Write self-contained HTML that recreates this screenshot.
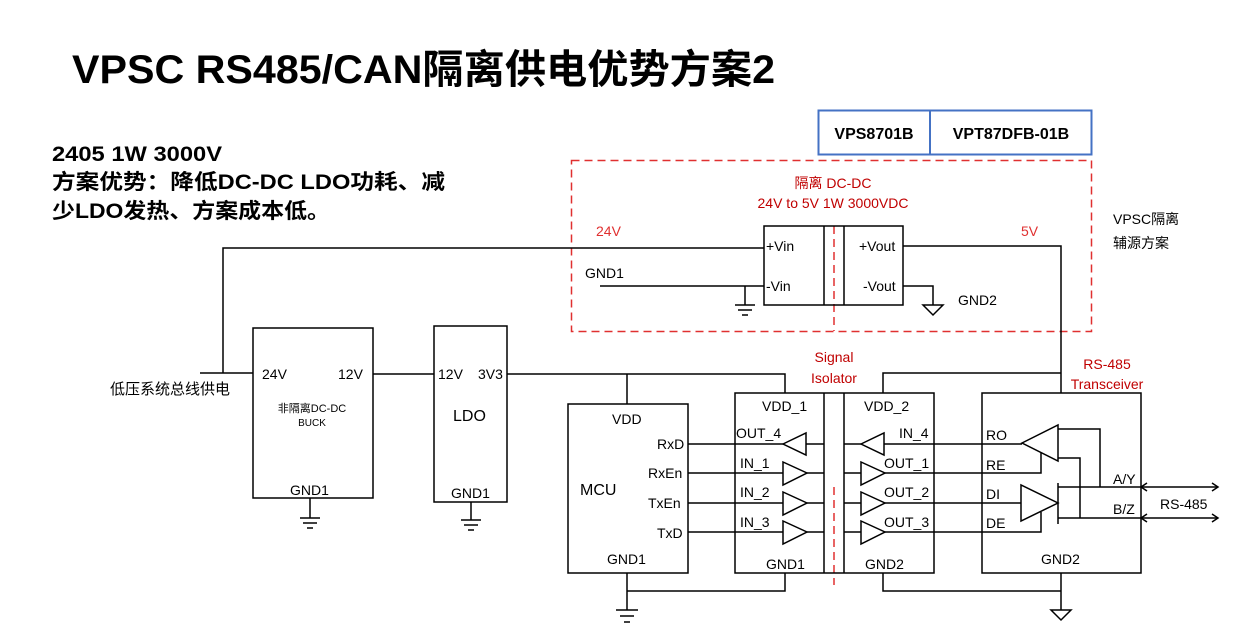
<!DOCTYPE html>
<html><head><meta charset="utf-8"><style>
html,body{margin:0;padding:0;background:#fff;}
svg{display:block;font-family:"Liberation Sans","Noto Sans CJK SC",sans-serif;}
</style></head><body>
<svg width="1259" height="638" viewBox="0 0 1259 638" xmlns="http://www.w3.org/2000/svg">
<g font-family="Liberation Sans, Noto Sans CJK SC, sans-serif">
<text x="72" y="83" font-size="40" font-weight="bold" textLength="703" lengthAdjust="spacingAndGlyphs">VPSC RS485/CAN隔离供电优势方案2</text>
<text x="52" y="161" font-size="21" font-weight="bold" textLength="170" lengthAdjust="spacingAndGlyphs">2405 1W 3000V</text>
<text x="52" y="189" font-size="21" font-weight="bold" textLength="393" lengthAdjust="spacingAndGlyphs">方案优势：降低DC-DC LDO功耗、减</text>
<text x="52" y="218" font-size="21" font-weight="bold" textLength="278" lengthAdjust="spacingAndGlyphs">少LDO发热、方案成本低。</text>

<rect x="818.5" y="110.5" width="273" height="44" fill="none" stroke="#4472C4" stroke-width="2"/>
<line x1="930" y1="110" x2="930" y2="155" stroke="#4472C4" stroke-width="2"/>
<text x="874" y="139" font-size="16" font-weight="bold" text-anchor="middle">VPS8701B</text>
<text x="1011" y="139" font-size="16" font-weight="bold" text-anchor="middle">VPT87DFB-01B</text>

<rect x="571.5" y="160.5" width="520" height="171" fill="none" stroke="#E03030" stroke-width="1.5" stroke-dasharray="8,5"/>
<line x1="834" y1="226" x2="834" y2="331" stroke="#E03030" stroke-width="1.5" stroke-dasharray="8,5"/>
<line x1="834" y1="487" x2="834" y2="585" stroke="#E03030" stroke-width="1.5" stroke-dasharray="8,5"/>

<g fill="#C00000" font-size="14" text-anchor="middle">
<text x="833" y="188">隔离 DC-DC</text>
<text x="833" y="208">24V to 5V  1W  3000VDC</text>
<text x="834" y="362">Signal</text>
<text x="834" y="383">Isolator</text>
<text x="1107" y="369">RS-485</text>
<text x="1107" y="389">Transceiver</text>
</g>
<g fill="#E03030" font-size="14">
<text x="596" y="236">24V</text>
<text x="1021" y="236">5V</text>
</g>
<g font-size="14">
<text x="1113" y="224">VPSC隔离</text>
<text x="1113" y="248">辅源方案</text>
<text x="585" y="278">GND1</text>
<text x="958" y="305">GND2</text>
<text x="110" y="394" font-size="15">低压系统总线供电</text>
</g>

<g stroke="#000" stroke-width="1.5" fill="none">
<rect x="764" y="226" width="139" height="79"/>
<line x1="824" y1="226" x2="824" y2="305"/>
<line x1="844" y1="226" x2="844" y2="305"/>
<polyline points="200,373 253,373"/>
<polyline points="223,373 223,248 764,248"/>
<line x1="600" y1="286" x2="764" y2="286"/>
<line x1="745" y1="286" x2="745" y2="305"/>
<line x1="735" y1="305" x2="755" y2="305"/><line x1="738" y1="310" x2="752" y2="310"/><line x1="742" y1="315" x2="748" y2="315"/>
<polyline points="903,286 933,286 933,305"/>
<polygon points="923,305 943,305 933,315"/>
<polyline points="903,246 1061,246 1061,393"/>

<rect x="253" y="328" width="120" height="170"/>
<line x1="310" y1="498" x2="310" y2="518"/>
<line x1="300" y1="518" x2="320" y2="518"/><line x1="303" y1="523" x2="317" y2="523"/><line x1="307" y1="528" x2="313" y2="528"/>
<line x1="373" y1="374" x2="434" y2="374"/>
<rect x="434" y="326" width="73" height="176"/>
<line x1="471" y1="502" x2="471" y2="520"/>
<line x1="461" y1="520" x2="481" y2="520"/><line x1="464" y1="525" x2="478" y2="525"/><line x1="468" y1="530" x2="474" y2="530"/>
<polyline points="507,374 785,374 785,393"/>
<line x1="627" y1="374" x2="627" y2="404"/>
<polyline points="883,393 883,373 1061,373"/>

<rect x="568" y="404" width="120" height="169"/>
<polyline points="627,573 627,610"/>
<polyline points="627,591 785,591 785,573"/>
<line x1="616" y1="610" x2="638" y2="610"/><line x1="620" y1="616" x2="634" y2="616"/><line x1="624" y1="622" x2="630" y2="622"/>

<rect x="735" y="393" width="199" height="180"/>
<line x1="824" y1="393" x2="824" y2="573"/>
<line x1="844" y1="393" x2="844" y2="573"/>
<polyline points="883,573 883,591 1061,591"/>

<line x1="688" y1="444" x2="783" y2="444"/>
<polygon points="783,444 806,433 806,455"/>
<line x1="806" y1="444" x2="824" y2="444"/>
<line x1="844" y1="444" x2="861" y2="444"/>
<polygon points="861,444 884,433 884,455"/>
<line x1="884" y1="444" x2="1022" y2="444"/>

<line x1="688" y1="473" x2="783" y2="473"/>
<polygon points="783,462 783,485 807,473"/>
<line x1="807" y1="473" x2="824" y2="473"/>
<line x1="844" y1="473" x2="861" y2="473"/>
<polygon points="861,462 861,485 885,473"/>
<polyline points="885,473 1041,473 1041,453"/>

<line x1="688" y1="503" x2="783" y2="503"/>
<polygon points="783,492 783,515 807,503"/>
<line x1="807" y1="503" x2="824" y2="503"/>
<line x1="844" y1="503" x2="861" y2="503"/>
<polygon points="861,492 861,515 885,503"/>
<line x1="885" y1="503" x2="1021" y2="503"/>

<line x1="688" y1="532" x2="783" y2="532"/>
<polygon points="783,521 783,544 807,532"/>
<line x1="807" y1="532" x2="824" y2="532"/>
<line x1="844" y1="532" x2="861" y2="532"/>
<polygon points="861,521 861,544 885,532"/>
<polyline points="885,532 1041,532 1041,512"/>

<rect x="982" y="393" width="159" height="180"/>
<polygon points="1022,443 1058,425 1058,461"/>
<polyline points="1058,429 1100,429 1100,487"/>
<polyline points="1058,458 1080,458 1080,518"/>
<polygon points="1021,485 1021,521 1058,503"/>
<line x1="1058" y1="483" x2="1058" y2="524"/>
<line x1="1058" y1="487" x2="1218" y2="487"/>
<line x1="1058" y1="518" x2="1218" y2="518"/>
<polyline points="1147,483 1141,487 1147,491"/>
<polyline points="1212,483 1218,487 1212,491"/>
<polyline points="1147,514 1141,518 1147,522"/>
<polyline points="1212,514 1218,518 1212,522"/>
<line x1="1061" y1="573" x2="1061" y2="610"/>
<polygon points="1051,610 1071,610 1061,620"/>
</g>

<g font-size="14">
<text x="766" y="251">+Vin</text>
<text x="766" y="291">-Vin</text>
<text x="859" y="251">+Vout</text>
<text x="863" y="291">-Vout</text>
<text x="262" y="379">24V</text>
<text x="338" y="379">12V</text>
<text x="312" y="412" font-size="11" text-anchor="middle">非隔离DC-DC</text>
<text x="312" y="426" font-size="10" text-anchor="middle">BUCK</text>
<text x="290" y="495">GND1</text>
<text x="438" y="379">12V</text>
<text x="478" y="379">3V3</text>
<text x="453" y="421" font-size="16">LDO</text>
<text x="451" y="498">GND1</text>

<text x="612" y="424">VDD</text>
<text x="657" y="449">RxD</text>
<text x="648" y="478">RxEn</text>
<text x="648" y="508">TxEn</text>
<text x="657" y="538">TxD</text>
<text x="580" y="495" font-size="16">MCU</text>
<text x="607" y="564">GND1</text>

<text x="762" y="411">VDD_1</text>
<text x="736" y="438">OUT_4</text>
<text x="740" y="468">IN_1</text>
<text x="740" y="497">IN_2</text>
<text x="740" y="527">IN_3</text>
<text x="766" y="569">GND1</text>
<text x="864" y="411">VDD_2</text>
<text x="899" y="438">IN_4</text>
<text x="884" y="468">OUT_1</text>
<text x="884" y="497">OUT_2</text>
<text x="884" y="527">OUT_3</text>
<text x="865" y="569">GND2</text>

<text x="986" y="440">RO</text>
<text x="986" y="470">RE</text>
<text x="986" y="499">DI</text>
<text x="986" y="528">DE</text>
<text x="1113" y="484">A/Y</text>
<text x="1113" y="514">B/Z</text>
<text x="1160" y="509">RS-485</text>
<text x="1041" y="564">GND2</text>
</g>
</g>
</svg>
</body></html>
